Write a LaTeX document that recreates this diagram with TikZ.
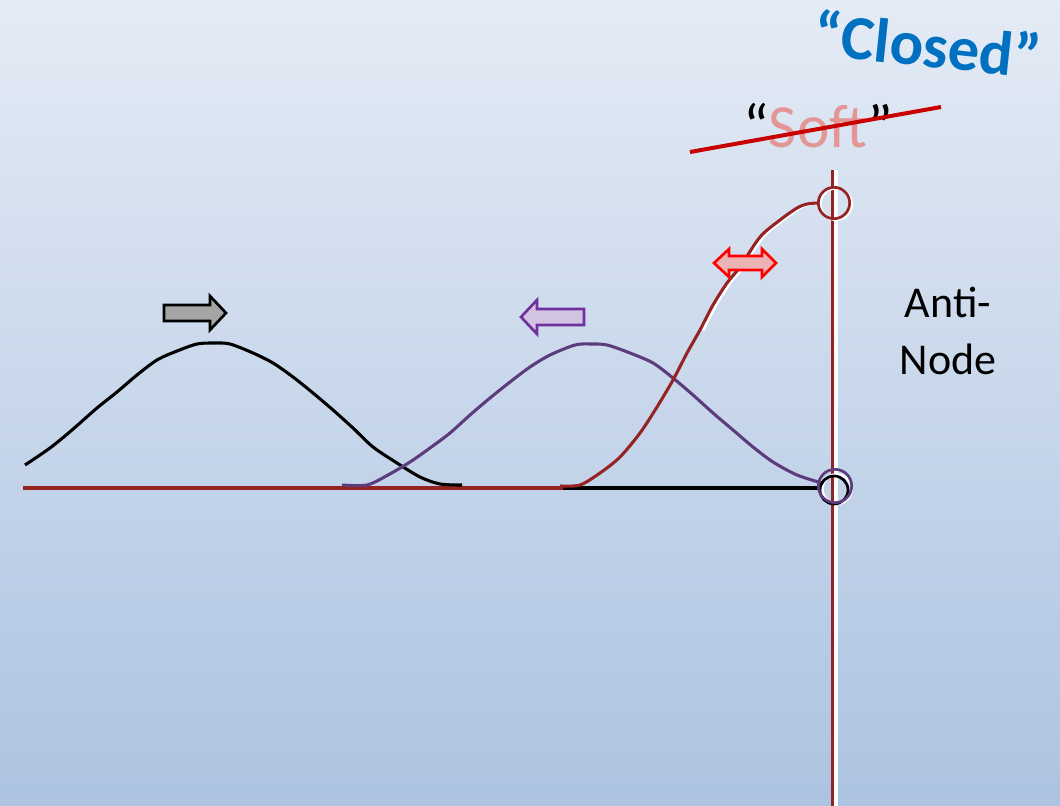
\documentclass[tikz,border=0pt]{standalone}
\usepackage{fontspec}
\setmainfont{Carlito}
\definecolor{bgtop}{RGB}{228,235,245}
\definecolor{bgbot}{RGB}{172,195,225}
\definecolor{wred}{RGB}{150,35,35}
\definecolor{wpurple}{RGB}{92,60,125}
\definecolor{closedblue}{RGB}{0,112,192}
\definecolor{strikered}{RGB}{200,0,0}
\definecolor{softpink}{RGB}{228,150,150}
\definecolor{arrgray}{RGB}{165,165,165}
\definecolor{arrpurple}{RGB}{112,48,160}
\definecolor{arrpurplefill}{RGB}{210,195,225}
\definecolor{arrredfill}{RGB}{235,180,180}
\tikzset{
  wave/.style={line width=2.3pt, line join=round},
  fatarrow/.style={line width=2pt, line join=miter},
  ring/.style={circle, line width=2pt, inner sep=0pt},
}
\begin{document}
\begin{tikzpicture}[x=0.75pt,y=-0.75pt]
\shade[top color=bgtop,bottom color=bgbot] (0,0) rectangle (1060,806);
\useasboundingbox (0,0) rectangle (1060,806);

% baseline
\coordinate (b0) at (23,488);
\coordinate (b1) at (563,488);
\coordinate (b2) at (820,488);
\draw[wred, line width=2.7pt] (b0) -- (b1);
\draw[black, line width=2.7pt] (b1) -- (b2);

% black pulse
\draw[black, wave] plot[smooth, tension=0.5] coordinates {
 (25,465) (50,448) (72,430) (97,408) (117,392) (137,375) (157,360) (177,351) (197,344)
 (214,343) (230,344) (253,353) (273,363) (293,377) (313,393) (333,410) (353,428)
 (373,447) (397,463) (420,477) (440,484) (462,485)};

% purple pulse
\draw[wpurple, wave] plot[smooth, tension=0.5] coordinates {
 (342,485) (367,485) (388,475) (410,462) (430,448) (450,433) (470,415) (490,398)
 (510,382) (530,367) (550,355) (575,345) (591,344) (607,345) (630,353) (653,363)
 (673,378) (693,395) (713,413) (733,430) (753,447) (773,462) (797,475) (822,483)};

% red pulse (with white highlight)
\draw[white, wave, xshift=2.2pt] plot[smooth, tension=0.5] coordinates {
 (700,330) (713,305) (727,283) (740,267) (760,237) (780,220) (797,208) (807,204) (817,203)};
\draw[wred, wave] plot[smooth, tension=0.5] coordinates {
 (560,486) (580,485) (600,473) (620,457) (640,433) (657,407) (673,380) (687,353)
 (700,330) (713,305) (727,283) (740,267) (760,237) (780,220) (797,208) (807,204) (818,203)};

% vertical line at the closed end
\coordinate (vt) at (832.5,170);
\coordinate (vb) at (832.5,806);
\draw[white, line width=2.4pt] ([xshift=2.6pt]vt) -- ([xshift=2.6pt]vb);
\draw[wred, line width=2.4pt] (vt) -- (vb);

% circles
\node (topc) [ring, draw=white, minimum size=23.5pt] at (836,204) {};
\node (topc2) [ring, draw=wred, minimum size=23.5pt] at (834,203) {};
\node (botc0) [ring, draw=white, minimum size=22pt] at (837,489) {};
\node (botc1) [ring, draw=black, minimum size=21pt] at (834,490) {};
\node (botc2) [ring, draw=wpurple, minimum size=25pt] at (835,486) {};

% gray right arrow
\draw[fatarrow, black, fill=arrgray] (164,305) -- (210,305) -- (210,296) -- (226,313)
  -- (210,330) -- (210,321) -- (164,321) -- cycle;
% purple left arrow
\draw[fatarrow, arrpurple, fill=arrpurplefill] (584,309) -- (537,309) -- (537,300) -- (521,317)
  -- (537,334) -- (537,325) -- (584,325) -- cycle;
% red double arrow
\draw[fatarrow, red, fill=arrredfill] (714,263) -- (729,249) -- (729,256) -- (762,256) -- (762,249)
  -- (776,263) -- (762,277) -- (762,270) -- (729,270) -- (729,277) -- cycle;

% labels
\node (closed) [text=closedblue, font=\fontsize{47}{56}\selectfont\bfseries, rotate=-6, inner sep=0pt]
  at (928,44) {“Closed”};
\node (soft) [font=\fontsize{46}{55}\selectfont, inner sep=0pt]
  at (818,126) {“\textcolor{softpink}{Soft}”};
\coordinate (s0) at (690,152);
\coordinate (s1) at (941,107);
\draw[strikered, line width=3pt] (s0) -- (s1);

\node (anti) [font=\fontsize{33}{43}\selectfont, align=center, inner sep=0pt] at (948,331)
  {Anti-\\Node};
\end{tikzpicture}
\end{document}
